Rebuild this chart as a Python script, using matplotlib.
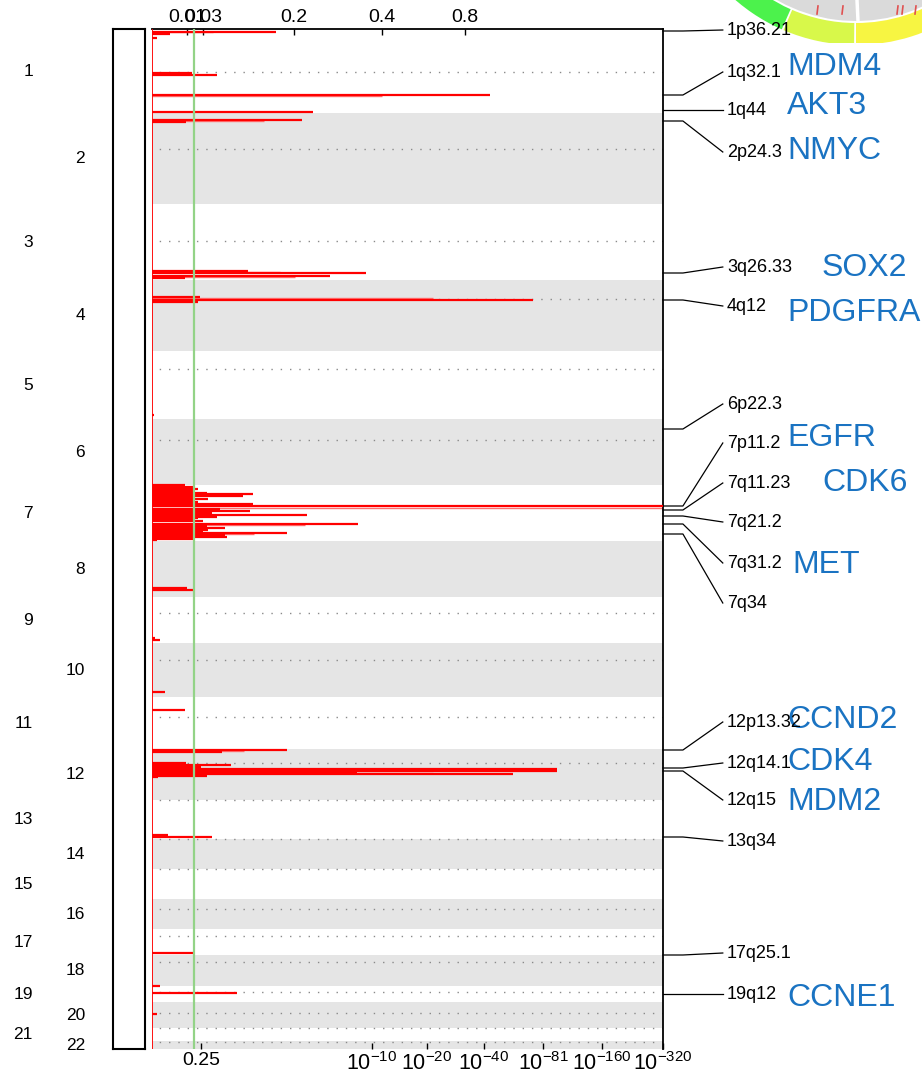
import matplotlib
matplotlib.use('Agg')
import matplotlib.pyplot as plt
from matplotlib.patches import Wedge, Rectangle
import numpy as np

plt.rcParams['font.family'] = ['Liberation Sans', 'DejaVu Sans']
plt.rcParams['mathtext.fontset'] = 'custom'
plt.rcParams['mathtext.rm'] = 'Liberation Sans'
plt.rcParams['mathtext.it'] = 'Liberation Sans:italic'

# ---------------- data ----------------
chrom_names = [str(i) for i in range(1, 23)]
chrom_sizes = [252, 273, 228, 213, 204, 198, 168, 168, 138, 162, 156, 153,
               117, 90, 90, 90, 78, 93, 48, 78, 39, 24]
centromeres = [129, 360, 636, 810, 1020, 1233, 1752, 1893, 2064, 2202, 2313,
               2430, 2520, 2640, 2721, 2799, 2889, 2952, 2997, 3039]

# amplification score profile (genome position, score in % of axis)
peak_pos = [7.5, 15, 27, 132, 138, 198, 249, 273, 279,
            726, 732, 741, 747, 804, 811.5, 819, 1158,
            1368, 1374, 1377, 1380, 1386, 1392, 1395, 1401, 1404, 1410, 1413, 1419, 1425,
            1431, 1440, 1446, 1452, 1458, 1464, 1467, 1473, 1476, 1485, 1491, 1494, 1497,
            1503, 1506, 1512, 1518, 1521, 1524, 1530, 1533,
            1677, 1683, 1827, 1833, 1989, 2043,
            2163, 2169, 2202, 2208, 2214, 2220, 2224.5, 2229, 2235, 2239.5, 2244,
            2418, 2422.5, 2772, 2871, 2892, 2955]
peak_score = [24.3, 3.5, 1.0, 7.8, 12.7, 66.1, 31.5, 29.4, 6.7,
              18.8, 41.9, 34.8, 6.5, 9.4, 74.6, 9.0, 0.4,
              6.5, 8.0, 7.5, 9.0, 8.4, 10.8, 19.8, 17.8, 8.0, 11.0, 8.5, 9.0, 19.8,
              100.0, 13.3, 19.2, 11.7, 30.3, 12.7, 9.0, 8.4, 10.0, 40.3, 10.8, 9.5, 14.3,
              11.0, 10.0, 26.4, 14.3, 9.0, 14.7, 8.0, 1.0,
              6.8, 8.0, 0.6, 1.6, 2.5, 6.5,
              26.4, 13.7, 6.7, 15.5, 9.5, 79.3, 79.3, 40.1, 70.6, 10.8, 1.2,
              3.1, 11.7, 8.4, 1.6, 16.6, 1.0]

# lighter (lower-confidence) segments
light_pos = [10, 201, 276, 729, 744, 808, 1435.5, 1398, 1488, 1515, 2166, 2226, 2232]
light_score = [12.0, 45.0, 22.0, 25.0, 28.0, 55.0, 100.0, 16.0, 30.0, 20.0, 18.0, 55.0, 38.0]

q_threshold = 8.22

top_tick_pos = [6.85, 9.98, 27.79, 45.01, 61.25]
top_tick_labels = ['0.01', '0.03', '0.2', '0.4', '0.8']
bot_tick_pos = [9.59, 43.05, 53.82, 64.97, 76.52, 88.06, 100.0]
bot_tick_labels = ['0.25', r'$10^{-10}$', r'$10^{-20}$', r'$10^{-40}$',
                   r'$10^{-81}$', r'$10^{-160}$', r'$10^{-320}$']

band_names = ['1p36.21', '1q32.1', '1q44', '2p24.3', '3q26.33', '4q12', '6p22.3',
              '7p11.2', '7q11.23', '7q21.2', '7q31.2', '7q34', '12p13.32',
              '12q14.1', '12q15', '13q34', '17q25.1', '19q12']
band_anchor = [6, 198, 243, 276, 732, 813, 1200, 1431, 1443, 1461, 1485, 1515,
               2163, 2217, 2226, 2424, 2778, 2895]
band_label_y = [3, 129, 243, 369, 714, 831, 1125, 1242, 1362, 1479, 1602, 1722,
                2079, 2202, 2313, 2436, 2772, 2895]

gene_names = ['MDM4', 'AKT3', 'NMYC', 'SOX2', 'PDGFRA', 'EGFR', 'CDK6', 'MET',
              'CCND2', 'CDK4', 'MDM2', 'CCNE1']
gene_x_px = [787, 787, 787, 822, 787, 787, 822, 792, 787, 787, 787, 787]
gene_y_px = [67, 106, 151, 268, 313, 438, 483, 565, 720, 762, 802, 998]

# ---------------- figure ----------------
W, H = 922, 1074
fig = plt.figure(figsize=(W / 100, H / 100), dpi=100)

# overlay (pixel coordinates) for decorations
ov = fig.add_axes([0, 0, 1, 1], zorder=0)
ov.set_xlim(0, W)
ov.set_ylim(H, 0)
ov.axis('off')

# partial circos ring in the top-right corner
cx, cy = 856, -139
ov.add_patch(Wedge((cx, cy), 160, 55, 140, width=24, facecolor='#dadada', edgecolor='none'))
ov.plot([857, 858], [0, 21], color='white', lw=2.5)
ov.add_patch(Wedge((cx, cy), 184, 113.8, 135, width=22, facecolor='#4cf24c', edgecolor='none'))
ov.add_patch(Wedge((cx, cy), 184, 90.6, 113.2, width=22, facecolor='#d8f84a', edgecolor='none'))
ov.add_patch(Wedge((cx, cy), 184, 55, 90.0, width=22, facecolor='#f7f542', edgecolor='none'))
for xr in [818, 843, 898, 903, 916]:
    ov.plot([xr, xr - 1], [6, 14], color='#e05050', lw=1.2)
ov.add_patch(Rectangle((786, 43), 100, 90, facecolor='white', edgecolor='none'))

# chromosome box
x0, x1 = 152 / W, 663 / W
y0, y1 = 1 - 1049 / H, 1 - 29 / H
bx = fig.add_axes([113 / W, y0, 32 / W, y1 - y0], zorder=1)
bx.set_xticks([])
bx.set_yticks([])
for s in bx.spines.values():
    s.set_linewidth(1.5)

ax = fig.add_axes([x0, y0, x1 - x0, y1 - y0], zorder=2)
ax.set_facecolor('none')
bounds = np.concatenate([[0], np.cumsum(chrom_sizes)])
ax.set_xlim(0, 100)
ax.set_ylim(bounds[-1], 0)

for i in range(len(chrom_sizes)):
    if i % 2 == 1:
        ax.axhspan(bounds[i], bounds[i + 1], color='#e5e5e5', lw=0, zorder=0)
ax.hlines(centromeres, 0, 100, colors='#8a8a8a', linestyles=(1.5, (1, 5.7)), lw=1.0, zorder=1)

ax.axvline(q_threshold, color='#93d387', lw=1.6, zorder=4)
ax.hlines(light_pos, 0, light_score, colors='#ff7070', lw=1.0, zorder=2)
ax.hlines(peak_pos, 0, peak_score, colors='#ff0000', lw=1.6, zorder=3)
ax.axvline(0, color='#ff0000', lw=1.3, zorder=3)

for s in ['left', 'bottom']:
    ax.spines[s].set_visible(False)
for s in ['top', 'right']:
    ax.spines[s].set_linewidth(1.3)

ax.xaxis.tick_top()
ax.set_xticks(top_tick_pos)
ax.set_xticklabels(top_tick_labels, fontsize=14)
ax.tick_params(axis='x', direction='in', length=4, width=1, pad=2)
ax.set_yticks([])

sec = ax.secondary_xaxis('bottom')
sec.set_xticks(bot_tick_pos)
sec.set_xticklabels(bot_tick_labels, fontsize=15.5)
sec.tick_params(direction='in', length=4, width=1, pad=2)
sec.spines['bottom'].set_visible(False)
sec.get_xticklabels()[0].set_fontsize(14)

# chromosome labels
for i, name in enumerate(chrom_names):
    mid = (bounds[i] + bounds[i + 1]) / 2
    xx = -0.131 if i % 2 == 1 else -0.233
    ax.text(xx, mid, name, transform=ax.get_yaxis_transform(), ha='right',
            va='center', fontsize=12.5)

# cytoband annotations
tr = ax.get_yaxis_transform()
for name, a, ly in zip(band_names, band_anchor, band_label_y):
    ax.plot([1.0, 1.039, 1.117], [a, a, ly], color='black', lw=0.9,
            transform=tr, clip_on=False)
    ax.text(1.125, ly, name, transform=tr, ha='left', va='center', fontsize=13)

for g, gx, gy in zip(gene_names, gene_x_px, gene_y_px):
    ov.text(gx, gy, g, ha='left', va='center', fontsize=23, color='#1a73c2', zorder=5)

fig.savefig('out.png', dpi=100)
